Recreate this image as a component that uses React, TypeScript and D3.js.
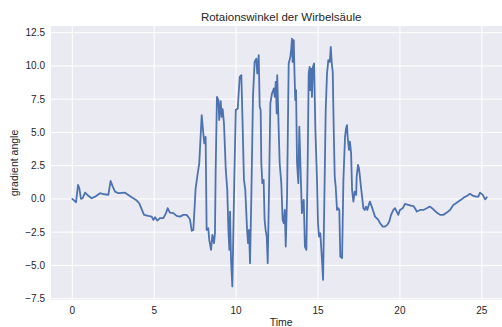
import React from "react";
import * as d3 from "d3";

const timeValues = [
  0.0, 0.23, 0.35, 0.43, 0.53, 0.63, 0.78, 0.92, 1.18, 1.39, 1.69, 1.96, 2.2, 2.34, 2.47, 2.61, 2.81,
  3.22, 3.42, 3.63, 3.89, 4.09, 4.24, 4.38, 4.64, 4.85, 4.95, 5.05, 5.19, 5.35, 5.56, 5.72, 5.82,
  5.96, 6.17, 6.37, 6.58, 6.78, 6.98, 7.14, 7.19, 7.29, 7.39, 7.53, 7.66, 7.75, 7.9, 8.0, 8.06, 8.14,
  8.2, 8.3, 8.36, 8.47, 8.55, 8.65, 8.71, 8.75, 8.83, 8.92, 8.97, 9.06, 9.12, 9.18, 9.26, 9.37, 9.46,
  9.53, 9.59, 9.63, 9.69, 9.77, 9.89, 9.98, 10.1, 10.22, 10.32, 10.38, 10.48, 10.56, 10.67, 10.73,
  10.79, 10.85, 10.93, 11.03, 11.13, 11.23, 11.29, 11.38, 11.44, 11.5, 11.54, 11.6, 11.68, 11.74,
  11.8, 11.87, 11.93, 12.01, 12.09, 12.19, 12.3, 12.36, 12.42, 12.48, 12.51, 12.6, 12.66, 12.76,
  12.84, 12.91, 12.97, 13.03, 13.11, 13.21, 13.31, 13.37, 13.41, 13.45, 13.52, 13.55, 13.61, 13.66,
  13.72, 13.8, 13.86, 13.96, 14.02, 14.08, 14.13, 14.2, 14.29, 14.37, 14.43, 14.49, 14.53, 14.59,
  14.63, 14.69, 14.76, 14.84, 14.94, 15.0, 15.06, 15.14, 15.23, 15.31, 15.39, 15.47, 15.55, 15.63,
  15.72, 15.78, 15.84, 15.9, 15.96, 16.02, 16.08, 16.16, 16.24, 16.3, 16.36, 16.47, 16.55, 16.65,
  16.71, 16.77, 16.81, 16.89, 16.95, 17.02, 17.08, 17.16, 17.24, 17.33, 17.36, 17.44, 17.5, 17.56,
  17.63, 17.69, 17.77, 17.85, 17.93, 18.01, 18.1, 18.17, 18.28, 18.38, 18.48, 18.58, 18.68, 18.79,
  18.95, 19.09, 19.23, 19.35, 19.46, 19.6, 19.7, 19.8, 19.9, 20.0, 20.17, 20.31, 20.51, 20.72,
  20.82, 20.92, 21.03, 21.23, 21.43, 21.64, 21.74, 21.84, 22.04, 22.25, 22.45, 22.65, 22.86, 23.06,
  23.26, 23.47, 23.57, 23.77, 23.91, 24.08, 24.28, 24.48, 24.65, 24.79, 24.89, 25.06, 25.2, 25.3,
];

const angleValues = [
  0.0, -0.25, 1.05, 0.8, 0.0, 0.05, 0.47, 0.3, 0.05, 0.17, 0.43, 0.35, 0.3, 1.35, 0.92, 0.55, 0.43,
  0.47, 0.3, 0.12, -0.08, -0.33, -0.78, -1.2, -1.28, -1.33, -1.58, -1.38, -1.63, -1.45, -1.45, -1.07, -0.7,
  -1.03, -1.07, -1.28, -1.33, -1.2, -1.2, -1.45, -1.58, -2.4, -2.33, 0.8, 1.93, 2.68, 6.3, 4.93, 4.18, 4.67,
  -2.33, -2.2, -3.08, -3.83, -2.7, -3.33, -2.58, 1.93, 7.67, 7.43, 5.93, 7.35, 6.17, 6.75, 5.68, 2.18, 0.68,
  -2.33, -3.83, -0.95, -4.58, -6.58, 1.43, 6.68, 6.8, 9.17, 9.3, 6.43, 1.43, 0.68, -2.33, -3.33,
  -2.33, -4.83, 0.17, 7.67, 10.3, 10.55, 9.43, 10.8, 6.93, 6.68, 2.68, 1.18, 1.43, -1.58,
  -2.33, -2.83, -4.83, 0.68, 7.18, 7.93, 8.3, 7.67, 8.8, 6.43, 9.3, 5.18, 2.68, 1.18,
  -1.58, -1.83, -0.83, -3.58, 0.17, 10.18, 10.68, 11.3, 12.05, 10.3, 11.93, 10.18, 7.43, 8.18, 2.68,
  1.18, 5.43, 1.18, -1.07, -0.33, -0.08, -3.58, -3.83, 2.68, 9.43, 9.93, 8.18, 9.8, 7.67,
  9.93, 10.18, 5.18, 1.43, -1.83, -2.83, -2.58, -4.33, -6.08, 0.17, 6.68, 9.43, 10.43, 10.3,
  11.43, 10.18, 9.55, 5.18, 1.68, 0.93, -0.83, -0.7, -0.83, -4.33, -4.45, 1.43, 4.67, 5.3,
  5.55, 4.67, 3.68, 4.3, 3.43, 0.68, -0.2, 0.55, 0.3, 1.68, 2.55, 2.3, 1.68, 0.8,
  0.17, -0.7, -0.83, -0.58, -0.83, -0.45, -0.2, -0.58, -0.95, -1.33, -1.45, -1.58, -1.83, -2.08,
  -2.08, -1.95, -1.7, -1.2, -0.83, -0.7, -0.95, -1.2, -0.83, -0.7, -0.38, -0.45, -0.53, -0.53,
  -0.7, -0.95, -0.83, -0.83, -0.7, -0.62, -0.58, -0.78, -1.03, -1.2, -1.2, -1.03, -0.83, -0.45,
  -0.28, -0.2, -0.03, 0.12, 0.22, 0.38, 0.22, 0.17, 0.17, 0.47, 0.3, -0.03, 0.12, 0.22,
];

const xTicks = [0, 5, 10, 15, 20, 25];
const yTicks = [-7.5, -5.0, -2.5, 0.0, 2.5, 5.0, 7.5, 10.0, 12.5];

const titleText = "Rotaionswinkel der Wirbelsäule";
const xLabel = "Time";
const yLabel = "gradient angle";

export default function App() {
  const W = 502;
  const H = 327;
  const left = 51;
  const right = 511.3;
  const top = 26;
  const bottom = 300;

  const x = d3.scaleLinear().domain([-1.3, 26.8]).range([left, right]);
  const y = d3.scaleLinear().domain([-7.6, 13.0]).range([bottom, top]);

  const data = timeValues.map((t, i) => [t, angleValues[i]] as [number, number]);
  const line = d3
    .line<[number, number]>()
    .x((d) => x(d[0]))
    .y((d) => y(d[1]));

  const font = "'Liberation Sans', Arial, sans-serif";
  const textColor = "#262626";

  return (
    <svg
      width={W}
      height={H}
      style={{ position: "absolute", left: 0, top: 0, background: "#fff" }}
      fontFamily={font}
    >
      <defs>
        <clipPath id="plotclip">
          <rect x={left} y={top} width={right - left} height={bottom - top} />
        </clipPath>
      </defs>
      <rect x={left} y={top} width={right - left} height={bottom - top} fill="#eaeaf2" />
      {xTicks.map((t) => (
        <line key={"gx" + t} x1={x(t)} x2={x(t)} y1={top} y2={bottom} stroke="#fff" strokeWidth={1} />
      ))}
      {yTicks.map((t) => (
        <line key={"gy" + t} x1={left} x2={right} y1={y(t)} y2={y(t)} stroke="#fff" strokeWidth={1} />
      ))}
      <path
        d={line(data) || ""}
        fill="none"
        stroke="#4c72b0"
        strokeWidth={1.8}
        strokeLinejoin="round"
        strokeLinecap="round"
        clipPath="url(#plotclip)"
      />
      {xTicks.map((t) => (
        <text key={"tx" + t} x={x(t)} y={314} textAnchor="middle" fontSize={10} fill={textColor}>
          {t}
        </text>
      ))}
      {yTicks.map((t) => (
        <text key={"ty" + t} x={45} y={y(t) + 3.5} textAnchor="end" fontSize={10} fill={textColor}>
          {t.toFixed(1).replace("-", "\u2212")}
        </text>
      ))}
      <text x={(left + right) / 2} y={21} textAnchor="middle" fontSize={11.5} fill={textColor}>
        {titleText}
      </text>
      <text x={(left + right) / 2} y={326} textAnchor="middle" fontSize={10.5} fill={textColor}>
        {xLabel}
      </text>
      <text
        transform={`translate(18, ${(top + bottom) / 2}) rotate(-90)`}
        textAnchor="middle"
        fontSize={10.5}
        fill={textColor}
      >
        {yLabel}
      </text>
    </svg>
  );
}
